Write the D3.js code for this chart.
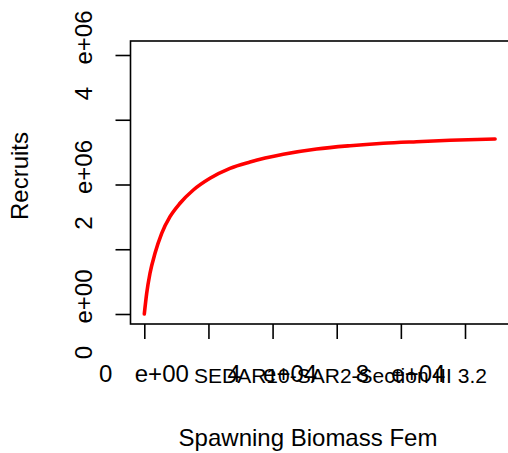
<!DOCTYPE html>
<html>
<head>
<meta charset="utf-8">
<script src="https://cdn.jsdelivr.net/npm/d3@7"></script>
<style>
  html, body { margin: 0; padding: 0; background: #fff; }
  svg { display: block; }
  text { font-family: "Liberation Sans", Arial, Helvetica, sans-serif; fill: #000; }
</style>
</head>
<body>
<script>
// ---- data ----
const spawningBiomass = [0, 748, 1777, 3336, 5425, 8013, 11131, 15278, 20486, 26722, 32958,
  43340, 53754, 64168, 74520, 84935, 95349, 109380];
const recruits = [0, 320000, 629000, 937000, 1246000, 1503000, 1710000, 1915000, 2096000, 2250000, 2347000,
  2466000, 2548000, 2599000, 2636000, 2661000, 2683000, 2703000];
const xTickValues = [0, 20000, 40000, 60000, 80000, 100000];
const xTickLabelValues = [0, 40000, 80000];
const xTickLabels = ["0e+00", "4e+04", "8e+04"];
const yTickValues = [0, 1000000, 2000000, 3000000, 4000000];
const yTickLabelValues = [0, 2000000, 4000000];
const yTickLabels = ["0e+00", "2e+06", "4e+06"];
const xTitle = "Spawning Biomass Fem";
const yTitle = "Recruits";
const subTitle = "SEDAR10-SAR2-Section III 3.2";

// ---- layout ----
const W = 508, H = 453;
const box = { left: 130.5, right: 510, top: 41, bottom: 324 };
const x = d3.scaleLinear().domain([0, 100000]).range([144.3, 465]);
const y = d3.scaleLinear().domain([0, 4000000]).range([314, 55]);

const svg = d3.select("body").append("svg").attr("width", W).attr("height", H);

// plot box
svg.append("rect")
  .attr("x", box.left).attr("y", box.top)
  .attr("width", box.right - box.left).attr("height", box.bottom - box.top)
  .attr("fill", "none").attr("stroke", "#000").attr("stroke-width", 1.6);

// axes (ticks only; labels drawn separately)
const gx = svg.append("g").attr("transform", `translate(0,${box.bottom})`)
  .call(d3.axisBottom(x).tickValues(xTickValues).tickFormat("").tickSize(15).tickSizeOuter(0));
gx.select(".domain").remove();
gx.selectAll(".tick line").attr("stroke", "#000").attr("stroke-width", 1.6);

const gy = svg.append("g").attr("transform", `translate(${box.left},0)`)
  .call(d3.axisLeft(y).tickValues(yTickValues).tickFormat("").tickSize(15).tickSizeOuter(0));
gy.select(".domain").remove();
gy.selectAll(".tick line").attr("stroke", "#000").attr("stroke-width", 1.6);

// tick labels: mantissa and exponent part separated (as in reference)
const labFont = 24, digitOff = -38.5, expOff = 17.5;
xTickLabelValues.forEach((v, i) => {
  const parts = xTickLabels[i].split("e");
  svg.append("text").attr("x", x(v) + digitOff).attr("y", 382)
    .attr("text-anchor", "middle").attr("font-size", labFont).text(parts[0]);
  svg.append("text").attr("x", x(v) + expOff).attr("y", 382)
    .attr("text-anchor", "middle").attr("font-size", labFont).text("e" + parts[1]);
});
yTickLabelValues.forEach((v, i) => {
  const parts = yTickLabels[i].split("e");
  svg.append("text").attr("transform", `translate(92,${y(v) - digitOff}) rotate(-90)`)
    .attr("text-anchor", "middle").attr("font-size", labFont).text(parts[0]);
  svg.append("text").attr("transform", `translate(92,${y(v) - expOff}) rotate(-90)`)
    .attr("text-anchor", "middle").attr("font-size", labFont).text("e" + parts[1]);
});

// curve
const pts = spawningBiomass.map((s, i) => [s, recruits[i]]);
svg.append("path").datum(pts)
  .attr("fill", "none").attr("stroke", "#ff0000").attr("stroke-width", 3.6)
  .attr("stroke-linecap", "round").attr("stroke-linejoin", "round")
  .attr("d", d3.line().x(d => x(d[0])).y(d => y(d[1])).curve(d3.curveMonotoneX));

// sub title
svg.append("text").attr("x", 340.5).attr("y", 383).attr("text-anchor", "middle")
  .attr("font-size", 21).text(subTitle);

// axis titles
svg.append("text").attr("x", 308).attr("y", 446).attr("text-anchor", "middle")
  .attr("font-size", 24).text(xTitle);
svg.append("text").attr("transform", "translate(28,176) rotate(-90)")
  .attr("text-anchor", "middle").attr("font-size", 24).text(yTitle);
</script>
</body>
</html>
